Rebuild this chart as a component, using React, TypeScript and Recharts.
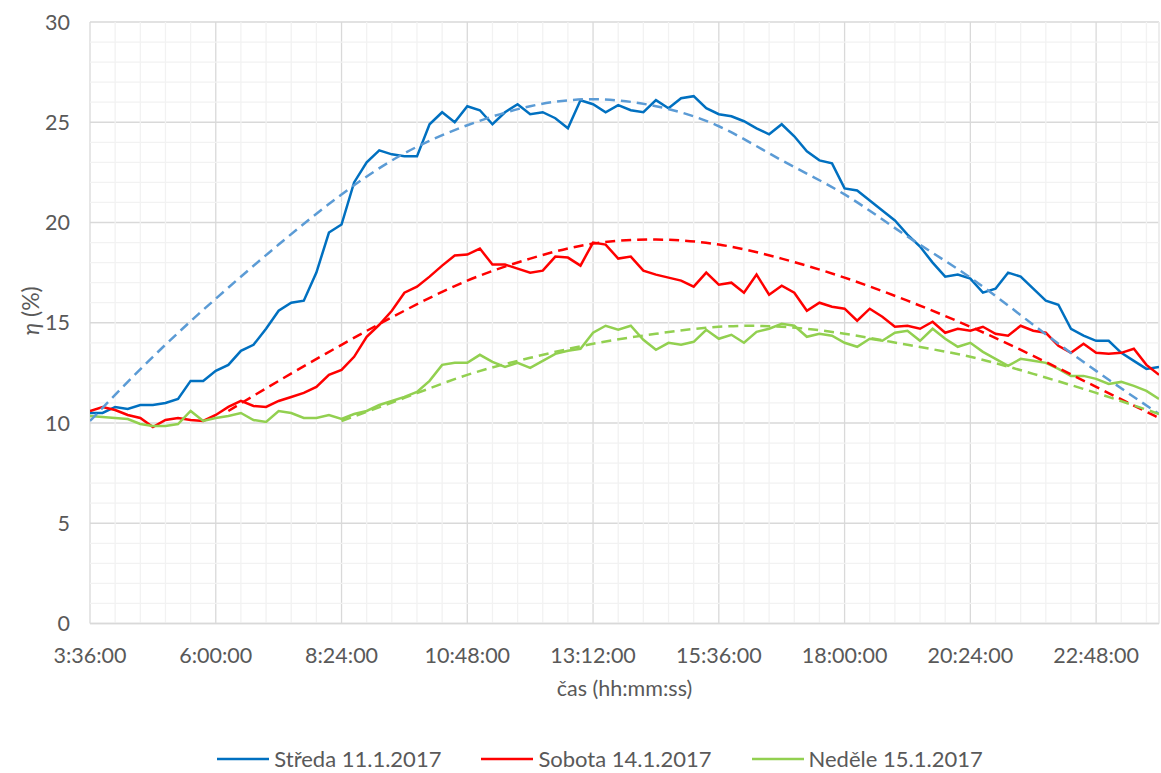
import { LineChart, Line, XAxis, YAxis, CartesianGrid, ReferenceLine, Legend, Label } from 'recharts';

const FONT = 'Lato, "Open Sans", sans-serif';
const TEXT = '#595959';
const MAJOR = '#D9D9D9';
const MINOR = '#F2F2F2';

// time axis in fractions of a day (0.15 = 3:36:00, 1.0 = 24:00:00)
const times = Array.from({ length: 86 }, (_, i) => +(0.15 + i * 0.01).toFixed(2));

const xTicks = [0.15, 0.25, 0.35, 0.45, 0.55, 0.65, 0.75, 0.85, 0.95];
const xTickLabels = ['3:36:00', '6:00:00', '8:24:00', '10:48:00', '13:12:00', '15:36:00', '18:00:00', '20:24:00', '22:48:00'];
const yTicks = [0, 5, 10, 15, 20, 25, 30];

const seriesNames = ['Středa 11.1.2017', 'Sobota 14.1.2017', 'Neděle 15.1.2017'];
const seriesColors = ['#0070C0', '#FF0000', '#92D050'];
const trendColors = ['#5B9BD5', '#FF0000', '#92D050'];

const streda = [
  10.5, 10.5, 10.8, 10.7, 10.9, 10.9, 11.0, 11.2, 12.1, 12.1,
  12.6, 12.9, 13.6, 13.9, 14.7, 15.6, 16.0, 16.1, 17.5, 19.5,
  19.9, 22.0, 23.0, 23.6, 23.4, 23.3, 23.3, 24.9, 25.5, 25.0,
  25.8, 25.6, 24.9, 25.5, 25.9, 25.4, 25.5, 25.2, 24.7, 26.1,
  25.9, 25.5, 25.85, 25.6, 25.5, 26.1, 25.7, 26.2, 26.3, 25.7,
  25.4, 25.3, 25.05, 24.7, 24.4, 24.9, 24.3, 23.55, 23.1, 22.95,
  21.7, 21.6, 21.1, 20.6, 20.1, 19.4, 18.8, 18.0, 17.3, 17.4,
  17.2, 16.5, 16.7, 17.5, 17.3, 16.7, 16.1, 15.9, 14.7, 14.36,
  14.1, 14.1, 13.5, 13.1, 12.7, 12.8,
];

const sobota = [
  10.6, 10.8, 10.65, 10.4, 10.25, 9.8, 10.15, 10.25, 10.15, 10.1,
  10.4, 10.8, 11.1, 10.85, 10.8, 11.1, 11.3, 11.5, 11.8, 12.4,
  12.65, 13.3, 14.3, 14.9, 15.6, 16.5, 16.8, 17.3, 17.85, 18.35,
  18.4, 18.7, 17.9, 17.9, 17.7, 17.5, 17.6, 18.3, 18.25, 17.85,
  19.0, 18.9, 18.2, 18.3, 17.6, 17.4, 17.25, 17.1, 16.8, 17.5,
  16.9, 17.0, 16.5, 17.4, 16.4, 16.85, 16.5, 15.6, 16.0, 15.8,
  15.7, 15.1, 15.7, 15.3, 14.8, 14.85, 14.7, 15.05, 14.5, 14.7,
  14.6, 14.8, 14.45, 14.35, 14.85, 14.6, 14.5, 13.85, 13.5, 13.95,
  13.5, 13.45, 13.5, 13.7, 12.9, 12.4,
];

const nedele = [
  10.35, 10.3, 10.25, 10.2, 9.95, 9.85, 9.85, 9.95, 10.6, 10.1,
  10.25, 10.35, 10.5, 10.15, 10.05, 10.6, 10.5, 10.25, 10.25, 10.4,
  10.2, 10.45, 10.6, 10.9, 11.1, 11.3, 11.55, 12.1, 12.9, 13.0,
  13.0, 13.4, 13.05, 12.8, 13.0, 12.75, 13.1, 13.45, 13.6, 13.7,
  14.5, 14.85, 14.65, 14.85, 14.15, 13.65, 14.0, 13.9, 14.05, 14.65,
  14.2, 14.4, 14.0, 14.55, 14.7, 14.95, 14.85, 14.3, 14.45, 14.35,
  14.0, 13.8, 14.2, 14.1, 14.5, 14.6, 14.1, 14.7, 14.2, 13.8,
  14.0, 13.55, 13.2, 12.85, 13.2, 13.1, 13.0, 12.7, 12.35, 12.35,
  12.2, 11.95, 12.05, 11.85, 11.6, 11.2,
];

// polynomial trend lines (dashed)
const stredaTrendTimes = [0.15, 0.2, 0.25, 0.3, 0.35, 0.4, 0.45, 0.5, 0.55, 0.6, 0.65, 0.7, 0.75, 0.8, 0.85, 0.9, 0.95, 1.0];
const stredaTrend = [10.1, 13.3, 16.2, 18.9, 21.4, 23.45, 24.85, 25.8, 26.15, 25.8, 24.8, 23.1, 21.4, 19.3, 17.25, 14.9, 12.6, 10.45];

const sobotaTrendTimes = [0.26, 0.3, 0.35, 0.4, 0.45, 0.5, 0.55, 0.6, 0.65, 0.7, 0.75, 0.8, 0.85, 0.9, 0.95, 1.0];
const sobotaTrend = [10.6, 12.1, 13.9, 15.6, 17.1, 18.2, 18.95, 19.15, 18.9, 18.2, 17.25, 16.1, 14.8, 13.35, 11.8, 10.25];

const nedeleTrendTimes = [0.35, 0.4, 0.45, 0.5, 0.55, 0.6, 0.65, 0.7, 0.75, 0.8, 0.85, 0.9, 0.95, 1.0];
const nedeleTrend = [10.1, 11.25, 12.4, 13.25, 13.95, 14.45, 14.8, 14.8, 14.45, 13.9, 13.3, 12.45, 11.5, 10.45];

const toRows = (ts: number[], vs: number[]) => ts.map((t, i) => ({ t, v: vs[i] }));

const solidData = [toRows(times, streda), toRows(times, sobota), toRows(times, nedele)];
const trendData = [
  toRows(stredaTrendTimes, stredaTrend),
  toRows(sobotaTrendTimes, sobotaTrend),
  toRows(nedeleTrendTimes, nedeleTrend),
];

// minor gridlines: every 0.02 day and every 1 %
const minorX: number[] = [];
for (let i = 1; i < 43; i++) if (i % 5 !== 0) minorX.push(+(0.15 + i * 0.02).toFixed(2));
minorX.push(1.0);
const minorY: number[] = [];
for (let i = 1; i < 30; i++) if (i % 5 !== 0) minorY.push(i);

const formatTime = (t: number) => {
  const idx = xTicks.findIndex((x) => Math.abs(x - t) < 1e-6);
  return idx >= 0 ? xTickLabels[idx] : '';
};

const YTitle = ({ viewBox }: any) => {
  const cx = viewBox.x + 30;
  const cy = viewBox.y + viewBox.height / 2 - 12;
  return (
    <text
      x={cx}
      y={cy}
      transform={`rotate(-90, ${cx}, ${cy})`}
      textAnchor="middle"
      dominantBaseline="central"
      fill={TEXT}
      fontFamily={FONT}
      fontSize={23}
    >
      <tspan fontStyle="italic">η</tspan>
      <tspan> (%)</tspan>
    </text>
  );
};

const LegendContent = () => (
  <div
    style={{
      display: 'flex',
      justifyContent: 'center',
      gap: 40,
      fontFamily: FONT,
      fontSize: 22,
      color: TEXT,
      lineHeight: '22px',
    }}
  >
    {seriesNames.map((name, i) => (
      <div key={name} style={{ display: 'flex', alignItems: 'center' }}>
        <svg width={52} height={6}>
          <line x1={0} y1={3} x2={52} y2={3} stroke={seriesColors[i]} strokeWidth={2.5} />
        </svg>
        <span style={{ marginLeft: 5 }}>{name}</span>
      </div>
    ))}
  </div>
);

const App = () => {
  const tickStyle = { fill: TEXT, fontSize: 21.5, fontFamily: FONT };
  return (
    <div style={{ position: 'absolute', left: 0, top: 0, width: 1161, height: 773, background: '#fff' }}>
      <LineChart width={1161} height={773} margin={{ top: 22, right: 2, bottom: 0, left: 0 }}>
        <CartesianGrid stroke={MAJOR} strokeWidth={1.3} />
        {minorX.map((x) => (
          <ReferenceLine key={`mx${x}`} x={x} stroke={MINOR} strokeWidth={1.3} />
        ))}
        {minorY.map((y) => (
          <ReferenceLine key={`my${y}`} y={y} stroke={MINOR} strokeWidth={1.3} />
        ))}
        <XAxis
          dataKey="t"
          type="number"
          domain={[0.15, 1.0]}
          ticks={xTicks}
          interval={0}
          tickFormatter={formatTime}
          tick={tickStyle}
          tickLine={false}
          tickMargin={18}
          axisLine={{ stroke: MAJOR, strokeWidth: 1.3 }}
          height={149.5}
          allowDataOverflow
        >
          <Label
            value="čas (hh:mm:ss)"
            position="insideTop"
            offset={57}
            style={{ fill: TEXT, fontSize: 21.5, fontFamily: FONT }}
          />
        </XAxis>
        <YAxis
          type="number"
          domain={[0, 30]}
          ticks={yTicks}
          interval={0}
          tick={tickStyle}
          tickLine={false}
          tickMargin={14}
          axisLine={false}
          width={90}
        >
          <Label content={<YTitle />} />
        </YAxis>
        <Legend
          layout="horizontal"
          align="center"
          verticalAlign="middle"
          wrapperStyle={{ top: 748, left: 39, width: 1122 }}
          content={<LegendContent />}
        />
        {solidData.map((d, i) => (
          <Line
            key={seriesNames[i]}
            data={d}
            dataKey="v"
            name={seriesNames[i]}
            type="linear"
            stroke={seriesColors[i]}
            strokeWidth={2.5}
            dot={false}
            activeDot={false}
            isAnimationActive={false}
          />
        ))}
        {trendData.map((d, i) => (
          <Line
            key={`trend-${seriesNames[i]}`}
            data={d}
            dataKey="v"
            name={`trend ${seriesNames[i]}`}
            legendType="none"
            type="natural"
            stroke={trendColors[i]}
            strokeWidth={2.5}
            strokeDasharray="10 6"
            dot={false}
            activeDot={false}
            isAnimationActive={false}
          />
        ))}
      </LineChart>
    </div>
  );
};

export default App;
